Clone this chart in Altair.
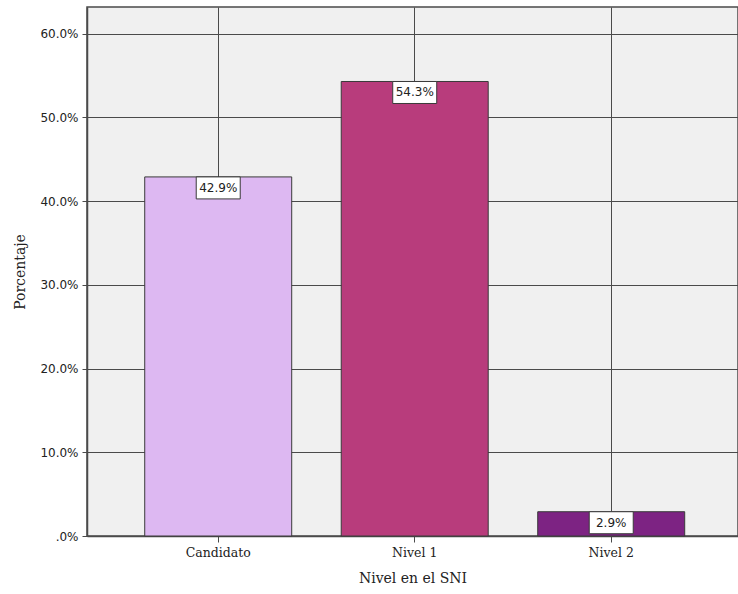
import altair as alt
import pandas as pd

# Distribución por nivel en el SNI
categories = ["Candidato", "Nivel 1", "Nivel 2"]
percentages = [42.9, 54.3, 2.9]
bar_colors = ["#DDB8F2", "#B83C7C", "#7D2383"]
y_ticks = [0, 10, 20, 30, 40, 50, 60]

df = pd.DataFrame({"nivel": categories, "pct": percentages})
df["etiqueta"] = df["pct"].map(lambda v: f"{v:.1f}%")

LINE = "#4a4a4a"
SERIF = "DejaVu Serif"
SANS = "DejaVu Sans"

x_enc = alt.X(
    "nivel:N",
    scale=alt.Scale(domain=categories, paddingInner=0.252, paddingOuter=0.2825, align=0.52),
    sort=categories,
    title="Nivel en el SNI",
    axis=alt.Axis(
        labelAngle=0,
        grid=True,
        bandPosition=0.5,
        gridColor=LINE,
        gridWidth=1,
        gridOpacity=1,
        domainColor=LINE,
        domainWidth=1.5,
        tickColor=LINE,
        tickSize=6,
        labelFont=SERIF,
        labelFontSize=12.5,
        labelColor="#222",
        labelPadding=4,
        titleFont=SERIF,
        titleFontSize=14,
        titleFontWeight="normal",
        titleColor="#222",
        titlePadding=13,
    ),
)

y_enc = alt.Y(
    "pct:Q",
    scale=alt.Scale(domain=[0, 63.2], nice=False, zero=True),
    title="Porcentaje",
    axis=alt.Axis(
        values=y_ticks,
        labelExpr="datum.value == 0 ? '.0%' : format(datum.value, '.1f') + '%'",
        grid=True,
        gridColor=LINE,
        gridWidth=1,
        gridOpacity=1,
        domainColor=LINE,
        domainWidth=1.5,
        tickColor=LINE,
        tickSize=5,
        labelFont=SANS,
        labelFontSize=12,
        labelColor="#222",
        labelPadding=4,
        titleFont=SERIF,
        titleFontSize=14,
        titleFontWeight="normal",
        titleColor="#222",
        titlePadding=12,
    ),
)

base = alt.Chart(df)

bars = base.mark_bar(stroke="#3a3a3a", strokeWidth=1).encode(
    x=x_enc,
    y=y_enc,
    color=alt.Color(
        "nivel:N",
        scale=alt.Scale(domain=categories, range=bar_colors),
        legend=None,
    ),
)

boxes = base.mark_rect(
    fill="white", stroke="#3a3a3a", strokeWidth=1, width=44, y2Offset=22
).encode(x=x_enc, y=y_enc, y2="pct:Q")

labels = base.mark_text(
    font=SANS, fontSize=12, color="#222", baseline="middle", yOffset=11
).encode(x=x_enc, y=y_enc, text="etiqueta:N")

chart = (
    alt.layer(bars, boxes, labels)
    .properties(
        width=651,
        height=529,
        autosize=alt.AutoSizeParams(type="none"),
        padding={"left": 87, "top": 7, "right": 0, "bottom": 58},
        background="white",
    )
    .configure_axis(titleFont=SERIF, titleFontWeight="normal")
    .configure_view(fill="#F0F0F0", stroke=LINE, strokeWidth=1.5)
)

chart.save("out.html", embed_options={"renderer": "svg", "actions": False})
